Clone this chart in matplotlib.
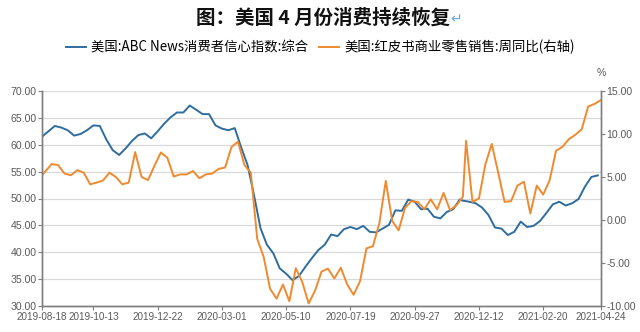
import numpy as np
import matplotlib
matplotlib.use('Agg')
import matplotlib.pyplot as plt

plt.rcParams['font.family'] = ['Noto Sans CJK SC', 'DejaVu Sans']
num_font = ['Liberation Sans Narrow', 'Liberation Sans', 'DejaVu Sans']

# weekly data, 2019-08-18 .. 2021-04-24 (category axis, dates of both series merged)
tick_cats = [0, 16, 36, 56, 76, 96, 116, 136, 156, 174]
tick_labels = ['2019-08-18', '2019-10-13', '2019-12-22', '2020-03-01', '2020-05-10',
               '2020-07-19', '2020-09-27', '2020-12-12', '2021-02-20', '2021-04-24']

# 美国:ABC News消费者信心指数:综合 (left axis)
abc = [61.5, 62.5, 63.5, 63.2, 62.7, 61.7, 62.0, 62.7, 63.6, 63.5,
       61.0, 59.0, 58.1, 59.3, 60.7, 61.8, 62.1, 61.2, 62.5, 63.9,
       65.1, 66.0, 66.0, 67.3, 66.5, 65.7, 65.7, 63.6, 63.0, 62.7,
       63.1, 59.5, 56.2, 50.6, 44.5, 41.4, 39.8, 37.0, 36.0, 34.8,
       35.6, 37.3, 38.9, 40.4, 41.4, 43.3, 43.0, 44.3, 44.7, 44.3,
       44.9, 43.8, 43.7, 44.4, 45.1, 47.8, 47.7, 49.8, 49.4, 48.0,
       48.1, 46.6, 46.3, 47.5, 48.0, 49.8, 49.6, 49.4, 49.1, 48.3,
       46.9, 44.6, 44.4, 43.2, 43.8, 45.7, 44.7, 44.9, 45.8, 47.3,
       48.9, 49.4, 48.7, 49.1, 49.9, 52.2, 54.0, 54.3]

# 美国:红皮书商业零售销售:周同比 (right axis, %)
redbook = [5.2, 6.5, 6.4, 5.4, 5.2, 5.8, 5.5, 4.15, 4.35, 4.6,
           5.5, 5.0, 4.15, 4.35, 7.9, 5.0, 4.65, 6.3, 7.85, 7.25,
           5.05, 5.3, 5.3, 5.7, 4.85, 5.3, 5.4, 5.95, 6.1, 8.5,
           9.1, 6.4, 5.5, -2.2, -4.3, -8.0, -9.15, -7.5, -9.45, -5.6,
           -7.2, -9.7, -8.2, -6.0, -5.65, -6.8, -5.55, -7.5, -8.7, -7.1,
           -3.3, -3.05, -0.4, 4.55, -0.1, -1.2, 1.4, 2.2, 2.1, 1.25,
           2.4, 1.25, 3.15, 1.15, 1.7, 2.7, 9.2, 2.1, 2.5, 6.45,
           8.85, 5.5, 2.1, 2.2, 4.0, 4.45, 0.75, 4.0, 2.95, 4.6,
           8.05, 8.5, 9.4, 9.9, 10.55, 13.2, 13.5, 13.95]

# position of each week on the merged category axis
k = np.arange(len(abc))
abc_x = np.where(k < 66, 2 * k, 2 * k - 1)
rb_x = np.where(k < 66, 2 * k + 1, 2 * k)
rb_x[0] = 0

blue = '#2e6d9e'
orange = '#ef8a2f'
axis_c = '#7f7f7f'
text_c = '#595959'

fig = plt.figure(figsize=(6.4, 3.32), dpi=100)
ax = fig.add_axes([42 / 640, 1 - 306 / 332, (601 - 42) / 640, (306 - 91) / 332])
ax2 = ax.twinx()

l1, = ax.plot(abc_x, abc, color=blue, lw=1.4)
l2, = ax2.plot(rb_x, redbook, color=orange, lw=1.4)

ax.set_xlim(0, 174)
ax.set_ylim(30, 70)
ax.set_yticks(np.arange(30, 71, 5))
ax2.set_ylim(-10, 15)
ax2.set_yticks(np.arange(-10, 16, 5))
ax.set_xticks(tick_cats)
ax.set_xticklabels(tick_labels)
ax.set_yticklabels(['%.2f' % v for v in np.arange(30, 71, 5)])
ax2.set_yticklabels(['%.2f' % v for v in np.arange(-10, 16, 5)])

ax.grid(axis='y', color='#d9d9d9', lw=0.9)
ax.set_axisbelow(True)

for a in (ax, ax2):
    a.spines['top'].set_visible(False)
    for s in ('left', 'right', 'bottom'):
        a.spines[s].set_color(axis_c)
        a.spines[s].set_linewidth(1.0)
    a.tick_params(length=3, width=0.8, color=axis_c, labelcolor=text_c, pad=1)

for lbl in ax.get_xticklabels():
    lbl.set_fontfamily(num_font)
    lbl.set_fontsize(7.1)
for lbl in ax.get_yticklabels() + ax2.get_yticklabels():
    lbl.set_fontfamily(num_font)
    lbl.set_fontsize(7.6)

ax2.text(1.0, 1.06, '%', transform=ax2.transAxes, ha='center', va='bottom',
         fontsize=7.6, color=text_c, family=num_font)

fig.text(0.505, 1 - 18 / 332, '图：美国 4 月份消费持续恢复', ha='center', va='center',
         fontsize=14, fontweight='bold', color='#111111')
fig.text(456 / 640, 1 - 19 / 332, '↵', ha='center', va='center', fontsize=10,
         color='#6fa8dc', family=['DejaVu Sans'])

fig.legend([l1, l2], ['美国:ABC News消费者信心指数:综合', '美国:红皮书商业零售销售:周同比(右轴)'],
           loc='center', bbox_to_anchor=(0.5, 1 - 47 / 332), ncol=2, frameon=False,
           fontsize=9.6, handlelength=1.5, handletextpad=0.4, columnspacing=0.8)

fig.savefig('out.png', dpi=100)
